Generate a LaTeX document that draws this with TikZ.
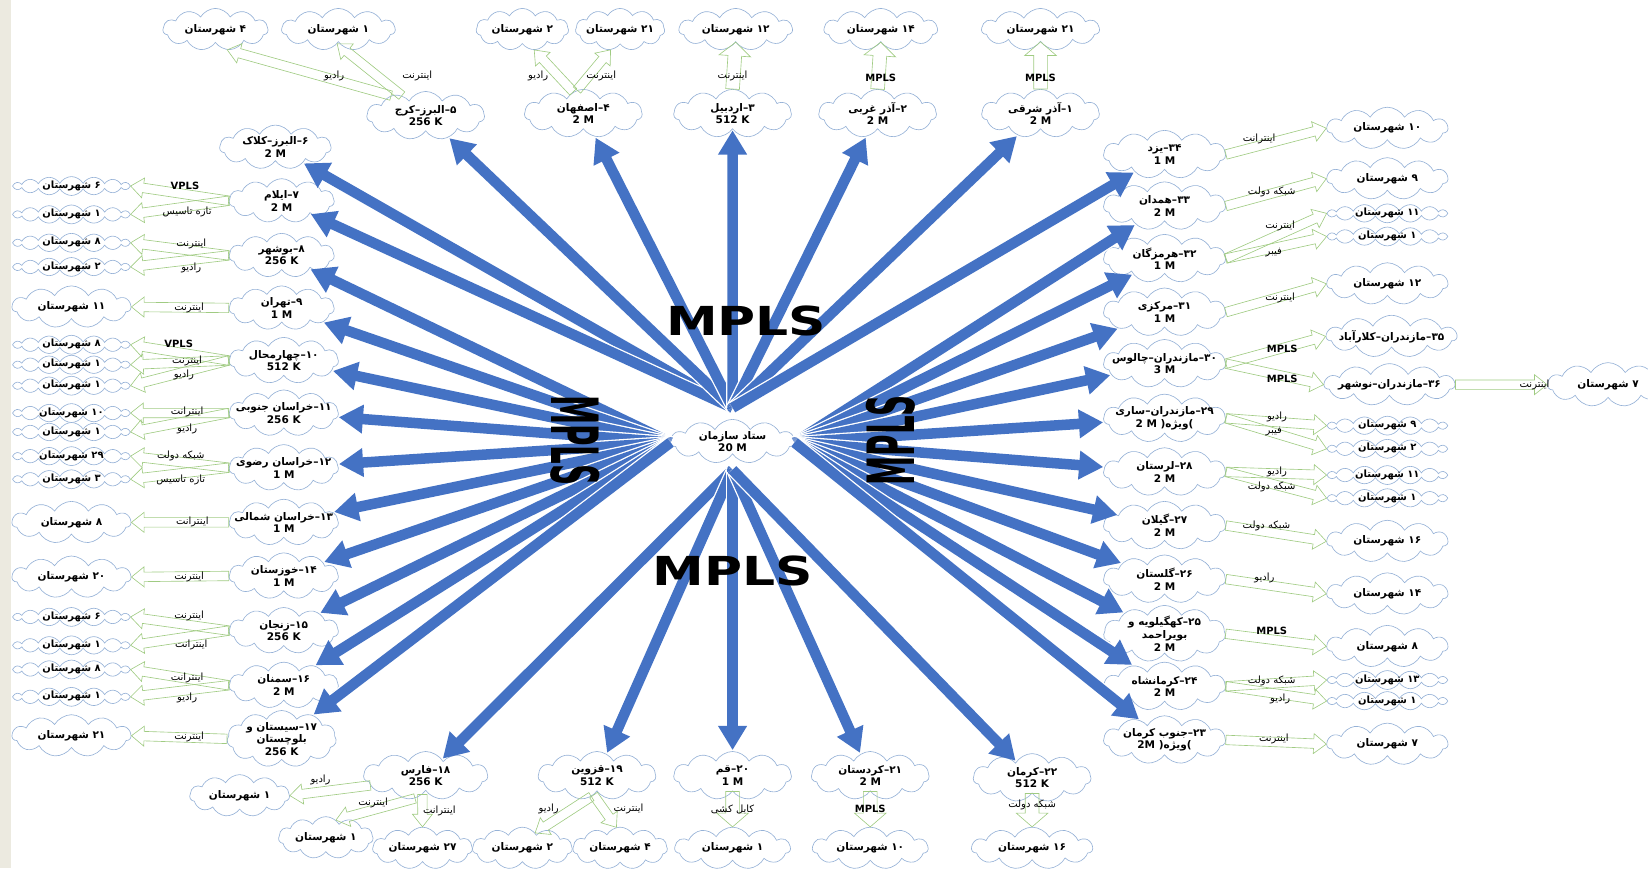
\documentclass[tikz,border=0pt]{standalone}
\usepackage{fontspec}
\usetikzlibrary{shapes.symbols,arrows.meta,calc}
\TeXXeTstate=1
\newfontfamily\pfont[Script=Arabic]{DejaVu Sans}
\definecolor{bluec}{RGB}{68,114,196}
\definecolor{greenc}{RGB}{160,203,130}
\definecolor{cloudc}{RGB}{150,178,215}
\definecolor{stripc}{RGB}{236,234,224}
\newcommand{\fa}[1]{\beginR #1\endR}
\newcommand{\shr}[1]{\fa{#1 شهرستان}}
\newcommand{\garrx}[5]{%
 \path (#1) coordinate (ga) (#2) coordinate (gb);
 \path ($(gb)!#5pt!(ga)$) coordinate (gm);
 \draw[garrow] ($(ga)!#3pt!90:(gb)$) -- ($(gm)!#3pt!-90:(ga)$) -- ($(gm)!#4pt!-90:(ga)$) -- (gb) -- ($(gm)!#4pt!90:(ga)$) -- ($(gm)!#3pt!90:(ga)$) -- ($(ga)!#3pt!-90:(gb)$) -- cycle;}
\newcommand{\garr}[2]{\garrx{#1}{#2}{4.5}{9.5}{12}}
\newcommand{\garrB}[2]{\garrx{#1}{#2}{6.5}{15}{13}}
\tikzset{
 cl/.style={cloud, cloud puffs=11, cloud puff arc=120, cloud ignores aspect, draw=cloudc, line width=0.6pt, fill=white, inner xsep=-14pt, inner ysep=-5pt, align=center, font=\pfont\bfseries\fontsize{10}{12}\selectfont},
 prov/.style={cl, minimum width=112pt, minimum height=46pt},
 dist/.style={cl, minimum width=108pt, minimum height=40pt},
 flat/.style={cl, cloud puffs=16, minimum width=112pt, minimum height=18pt, text height=5pt, text depth=1pt, font=\pfont\bfseries\fontsize{9.5}{11}\selectfont},
 lbl/.style={font=\pfont\fontsize{9.5}{11}\selectfont, inner sep=0pt},
 garrow/.style={draw=greenc, line width=0.6pt, line join=miter},
 barrow/.style={draw=bluec, line width=10pt, -{Triangle[width=26pt,length=23pt]}, shorten >=1pt, preaction={draw=white, line width=12.5pt, -, shorten >=12pt}},
 big/.style={font=\pfont\bfseries\fontsize{38}{38}\selectfont, inner sep=0pt},
 bigv/.style={font=\pfont\bfseries\fontsize{62}{62}\selectfont, inner sep=0pt, yscale=0.45},
}
\begin{document}
\begin{tikzpicture}[x=1pt,y=-1pt]
\fill[stripc] (0,0) rectangle (10,826);
\useasboundingbox (0,0) rectangle (1568,826);

% center
\node[cl, minimum width=118pt, minimum height=42pt] (c) at (697,420) {\fa{ستاد سازمان}\\\textbf{20 M}};
\coordinate (hubN) at (697,388);
\coordinate (hubS) at (697,447);
\coordinate (hubW) at (638,421);
\coordinate (hubE) at (756,421);

% top districts
\node[dist, minimum width=100pt] (t4) at (205,28) {\shr{۴}};
\node[dist] (t1) at (322,28) {\shr{۱}};
\node[dist, minimum width=88pt] (t2) at (497,28) {\shr{۲}};
\node[dist, minimum width=85pt] (t21) at (590,28) {\shr{۲۱}};
\node[dist] (t12) at (700,28) {\shr{۱۲}};
\node[dist] (t14) at (838,28) {\shr{۱۴}};
\node[dist, minimum width=112pt] (t21b) at (990,28) {\shr{۲۱}};

% top provinces
\node[prov] (p5) at (405,110) {\fa{۵–البرز–کرج}\\256 K};
\node[prov] (p4) at (555,108) {\fa{۴–اصفهان}\\2 M};
\node[prov] (p3) at (697,108) {\fa{۳–اردبیل}\\512 K};
\node[prov] (p2) at (835,108) {\fa{۲–آذر غربی}\\2 M};
\node[prov] (p1) at (990,108) {\fa{۱–آذر شرقی}\\2 M};

% left provinces
\node[prov, minimum width=106pt, minimum height=42pt] (p6) at (262,140) {\fa{۶–البرز–کلاک}\\2 M};
\node[prov, minimum width=100pt, minimum height=42pt] (p7) at (268,191) {\fa{۷–ایلام}\\2 M};
\node[prov, minimum width=100pt, minimum height=42pt] (p8) at (268,243) {\fa{۸–بوشهر}\\256 K};
\node[prov, minimum width=100pt, minimum height=42pt] (p9) at (268,293) {\fa{۹–تهران}\\1 M};
\node[prov, minimum width=104pt, minimum height=44pt] (p10) at (270,343) {\fa{۱۰–چهارمحال}\\512 K};
\node[prov, minimum width=104pt, minimum height=44pt] (p11) at (270,393) {\fa{۱۱–خراسان جنوبی}\\256 K};
\node[prov, minimum width=104pt, minimum height=44pt] (p12) at (270,445) {\fa{۱۲–خراسان رضوی}\\1 M};
\node[prov, minimum width=104pt, minimum height=44pt] (p13) at (270,497) {\fa{۱۳–خراسان شمالی}\\1 M};
\node[prov, minimum width=104pt, minimum height=44pt] (p14) at (270,548) {\fa{۱۴–خوزستان}\\1 M};
\node[prov, minimum width=104pt, minimum height=44pt] (p15) at (270,600) {\fa{۱۵–زنجان}\\256 K};
\node[prov, minimum width=104pt, minimum height=44pt] (p16) at (270,652) {\fa{۱۶–سمنان}\\2 M};
\node[prov, minimum width=104pt, minimum height=54pt] (p17) at (268,703) {\fa{۱۷–سیستان و}\\\fa{بلوچستان}\\256 K};

% left districts
\node[flat] (l1) at (68,177) {\shr{۶}};
\node[flat] (l2) at (68,204) {\shr{۱}};
\node[flat] (l3) at (68,231) {\shr{۸}};
\node[flat] (l4) at (68,254) {\shr{۲}};
\node[dist, minimum width=113pt] (l5) at (68,292) {\shr{۱۱}};
\node[flat] (l6) at (68,328) {\shr{۸}};
\node[flat] (l7) at (68,347) {\shr{۱}};
\node[flat] (l8) at (68,367) {\shr{۱}};
\node[flat] (l9) at (68,393) {\shr{۱۰}};
\node[flat] (l10) at (68,411) {\shr{۱}};
\node[flat] (l11) at (68,434) {\shr{۲۹}};
\node[flat] (l12) at (68,456) {\shr{۳}};
\node[dist, minimum width=113pt] (l13) at (68,497) {\shr{۸}};
\node[dist, minimum width=113pt] (l14) at (68,549) {\shr{۲۰}};
\node[flat] (l15) at (68,587) {\shr{۶}};
\node[flat] (l16) at (68,614) {\shr{۱}};
\node[flat] (l17) at (68,637) {\shr{۸}};
\node[flat] (l18) at (68,663) {\shr{۱}};
\node[dist, minimum width=113pt] (l19) at (68,700) {\shr{۲۱}};

% bottom provinces
\node[prov, minimum width=118pt] (p18) at (405,738) {\fa{۱۸–فارس}\\256 K};
\node[prov] (p19) at (568,738) {\fa{۱۹–قزوین}\\512 K};
\node[prov] (p20) at (697,738) {\fa{۲۰–قم}\\1 M};
\node[prov] (p21) at (828,738) {\fa{۲۱–کردستان}\\2 M};
\node[prov] (p22) at (982,740) {\fa{۲۲–کرمان}\\512 K};

% bottom districts
\node[dist, minimum width=95pt] (b1) at (228,757) {\shr{۱}};
\node[dist, minimum width=90pt] (b2) at (310,797) {\shr{۱}};
\node[dist, minimum width=95pt] (b3) at (402,807) {\shr{۲۷}};
\node[dist, minimum width=95pt] (b4) at (497,807) {\shr{۲}};
\node[dist, minimum width=90pt] (b5) at (590,807) {\shr{۴}};
\node[dist, minimum width=110pt] (b6) at (697,807) {\shr{۱}};
\node[dist, minimum width=110pt] (b7) at (828,807) {\shr{۱۰}};
\node[dist, minimum width=115pt] (b8) at (982,807) {\shr{۱۶}};

% right provinces
\node[prov, minimum width=116pt] (p34) at (1108,147) {\fa{۳۴–یزد}\\1 M};
\node[prov, minimum width=116pt] (p33) at (1108,196) {\fa{۳۳–همدان}\\2 M};
\node[prov, minimum width=116pt] (p32) at (1108,246) {\fa{۳۲–هرمزگان}\\1 M};
\node[prov, minimum width=116pt] (p31) at (1108,297) {\fa{۳۱–مرکزی}\\1 M};
\node[prov, minimum width=116pt] (p30) at (1108,346) {\fa{۳۰–مازندران–چالوس}\\3 M};
\node[prov, minimum width=116pt] (p29) at (1108,398) {\fa{۲۹–مازندران–ساری}\\2 M (\fa{ویژه})};
\node[prov, minimum width=116pt] (p28) at (1108,449) {\fa{۲۸–لرستان}\\2 M};
\node[prov, minimum width=116pt] (p27) at (1108,500) {\fa{۲۷–گیلان}\\2 M};
\node[prov, minimum width=116pt] (p26) at (1108,551) {\fa{۲۶–گلستان}\\2 M};
\node[prov, minimum width=116pt, minimum height=54pt] (p25) at (1108,603) {\fa{۲۵–کهگیلویه و}\\\fa{بویراحمد}\\2 M};
\node[prov, minimum width=116pt] (p24) at (1108,653) {\fa{۲۴–کرمانشاه}\\2 M};
\node[prov, minimum width=116pt] (p23) at (1108,704) {\fa{۲۳–جنوب کرمان}\\2M (\fa{ویژه})};

% right districts
\node[dist, minimum width=115pt] (r1) at (1320,122) {\shr{۱۰}};
\node[dist, minimum width=115pt] (r2) at (1320,170) {\shr{۹}};
\node[flat, minimum width=115pt] (r3) at (1320,203) {\shr{۱۱}};
\node[flat, minimum width=115pt] (r4) at (1320,225) {\shr{۱}};
\node[dist, minimum width=115pt] (r5) at (1320,270) {\shr{۱۲}};
\node[dist, minimum width=124pt] (m35) at (1324,320) {\fa{۳۵–مازندران–کلارآباد}};
\node[dist, minimum width=124pt] (m36) at (1322,366) {\fa{۳۶–مازندران–نوشهر}};
\node[dist, minimum width=115pt, minimum height=42pt] (rfar) at (1530,366) {\shr{۷}};
\node[flat, minimum width=115pt] (r6) at (1320,405) {\shr{۹}};
\node[flat, minimum width=115pt] (r7) at (1320,427) {\shr{۲}};
\node[flat, minimum width=115pt] (r8) at (1320,452) {\shr{۱۱}};
\node[flat, minimum width=115pt] (r9) at (1320,474) {\shr{۱}};
\node[dist, minimum width=115pt] (r10) at (1320,515) {\shr{۱۶}};
\node[dist, minimum width=115pt] (r11) at (1320,565) {\shr{۱۴}};
\node[dist, minimum width=115pt] (r12) at (1320,615) {\shr{۸}};
\node[flat, minimum width=115pt] (r13) at (1320,647) {\shr{۱۳}};
\node[flat, minimum width=115pt] (r14) at (1320,667) {\shr{۱}};
\node[dist, minimum width=115pt] (r15) at (1320,708) {\shr{۷}};

% blue arrows
\foreach \p in {p6,p7,p5,p4,p3,p2,p1,p34} \draw[barrow] (hubN) -- (\p);
\foreach \p in {p8,p9,p10,p11,p12,p13,p14,p15,p16,p17} \draw[barrow] (hubW) -- (\p);
\foreach \p in {p18,p19,p20,p21,p22} \draw[barrow] (hubS) -- (\p);
\foreach \p in {p33,p32,p31,p30,p29,p28,p27,p26,p25,p24,p23} \draw[barrow] (hubE) -- (\p);

% green arrows top
\garr{p5.150}{t4.-60}
\garr{p5.140}{t1.-95}
\garr{p4.115}{t2.-60}
\garr{p4.105}{t21.-115}
\garrB{p3.north}{t12.south}
\garrB{p2.north}{t14.south}
\garrB{p1.north}{t21b.south}
% left
\garr{p7.west}{l1.east}
\garr{p7.west}{l2.east}
\garr{p8.west}{l3.east}
\garr{p8.west}{l4.east}
\garr{p9.west}{l5.east}
\garr{p10.west}{l6.east}
\garr{p10.west}{l7.east}
\garr{p10.west}{l8.east}
\garr{p11.west}{l9.east}
\garr{p11.west}{l10.east}
\garr{p12.west}{l11.east}
\garr{p12.west}{l12.east}
\garr{p13.west}{l13.east}
\garr{p14.west}{l14.east}
\garr{p15.west}{l15.east}
\garr{p15.west}{l16.east}
\garr{p16.west}{l17.east}
\garr{p16.west}{l18.east}
\garr{p17.west}{l19.east}
% bottom
\garr{p18.190}{b1.east}
\garr{p18.-115}{b2.60}
\garr{p18.-100}{b3.north}
\garr{p19.-105}{b4.50}
\garr{p19.-100}{b5.100}
\garrB{p20.south}{b6.north}
\garrB{p21.south}{b7.north}
\garrB{p22.south}{b8.north}
% right
\garr{p34.east}{r1.west}
\garr{p33.east}{r2.west}
\garr{p32.east}{r3.west}
\garr{p32.east}{r4.west}
\garr{p31.east}{r5.west}
\garr{p30.east}{m35.west}
\garr{p30.east}{m36.west}
\garr{m36.east}{rfar.west}
\garr{p29.east}{r6.west}
\garr{p29.east}{r7.west}
\garr{p28.east}{r8.west}
\garr{p28.east}{r9.west}
\garr{p27.east}{r10.west}
\garr{p26.east}{r11.west}
\garr{p25.east}{r12.west}
\garr{p24.east}{r13.west}
\garr{p24.east}{r14.west}
\garr{p23.east}{r15.west}

% labels top
\node[lbl] (a1) at (318,72) {\fa{رادیو}};
\node[lbl] (a2) at (397,72) {\fa{اینترنت}};
\node[lbl] (a3) at (512,72) {\fa{رادیو}};
\node[lbl] (a4) at (572,72) {\fa{اینترنت}};
\node[lbl] (a5) at (697,72) {\fa{اینترنت}};
\node[lbl] (a6) at (838,74) {\textbf{MPLS}};
\node[lbl] (a7) at (990,74) {\textbf{MPLS}};
% labels left
\node[lbl] (e1) at (176,177) {\textbf{VPLS}};
\node[lbl] (e2) at (178,202) {\fa{تازه تاسیس}};
\node[lbl] (e3) at (182,232) {\fa{اینترنت}};
\node[lbl] (e4) at (182,255) {\fa{رادیو}};
\node[lbl] (e5) at (180,293) {\fa{اینترنت}};
\node[lbl] (e6) at (170,327) {\textbf{VPLS}};
\node[lbl] (e7) at (178,343) {\fa{اینترنت}};
\node[lbl] (e8) at (175,357) {\fa{رادیو}};
\node[lbl] (e9) at (178,392) {\fa{اینترانت}};
\node[lbl] (e10) at (178,408) {\fa{رادیو}};
\node[lbl] (e11) at (172,434) {\fa{شبکه دولت}};
\node[lbl] (e12) at (172,457) {\fa{تازه تاسیس}};
\node[lbl] (e13) at (183,497) {\fa{اینترانت}};
\node[lbl] (e14) at (180,549) {\fa{اینترنت}};
\node[lbl] (e15) at (180,586) {\fa{اینترنت}};
\node[lbl] (e16) at (182,614) {\fa{اینترانت}};
\node[lbl] (e17) at (178,645) {\fa{اینترانت}};
\node[lbl] (e18) at (178,664) {\fa{رادیو}};
\node[lbl] (e19) at (180,701) {\fa{اینترنت}};
% labels bottom
\node[lbl] (s1) at (305,742) {\fa{رادیو}};
\node[lbl] (s2) at (355,764) {\fa{اینترنت}};
\node[lbl] (s3) at (418,772) {\fa{اینترانت}};
\node[lbl] (s4) at (522,770) {\fa{رادیو}};
\node[lbl] (s5) at (598,770) {\fa{اینترنت}};
\node[lbl] (s6) at (697,770) {\fa{کابل کشی}};
\node[lbl] (s7) at (828,770) {\textbf{MPLS}};
\node[lbl] (s8) at (982,766) {\fa{شبکه دولت}};
% labels right
\node[lbl] (w1) at (1198,132) {\fa{اینترانت}};
\node[lbl] (w2) at (1210,183) {\fa{شبکه دولت}};
\node[lbl] (w3) at (1218,215) {\fa{اینترنت}};
\node[lbl] (w4) at (1212,240) {\fa{فیبر}};
\node[lbl] (w5) at (1218,283) {\fa{اینترنت}};
\node[lbl] (w6) at (1220,332) {\textbf{MPLS}};
\node[lbl] (w7) at (1220,360) {\textbf{MPLS}};
\node[lbl] (w8) at (1460,366) {\fa{اینترنت}};
\node[lbl] (w9) at (1215,397) {\fa{رادیو}};
\node[lbl] (w10) at (1212,411) {\fa{فیبر}};
\node[lbl] (w11) at (1215,449) {\fa{رادیو}};
\node[lbl] (w12) at (1210,463) {\fa{شبکه دولت}};
\node[lbl] (w13) at (1205,500) {\fa{شبکه دولت}};
\node[lbl] (w14) at (1203,550) {\fa{رادیو}};
\node[lbl] (w15) at (1210,600) {\textbf{MPLS}};
\node[lbl] (w16) at (1210,648) {\fa{شبکه دولت}};
\node[lbl] (w17) at (1218,665) {\fa{رادیو}};
\node[lbl] (w18) at (1212,703) {\fa{اینترنت}};

% big MPLS labels
\node[big, xscale=1.3] (mt) at (710,305) {MPLS};
\node[big, xscale=1.3] (mb) at (697,543) {MPLS};
\node[bigv, rotate=-90] (ml) at (547,419) {MPLS};
\node[bigv, rotate=90] (mr) at (848,419) {MPLS};
\end{tikzpicture}
\end{document}
